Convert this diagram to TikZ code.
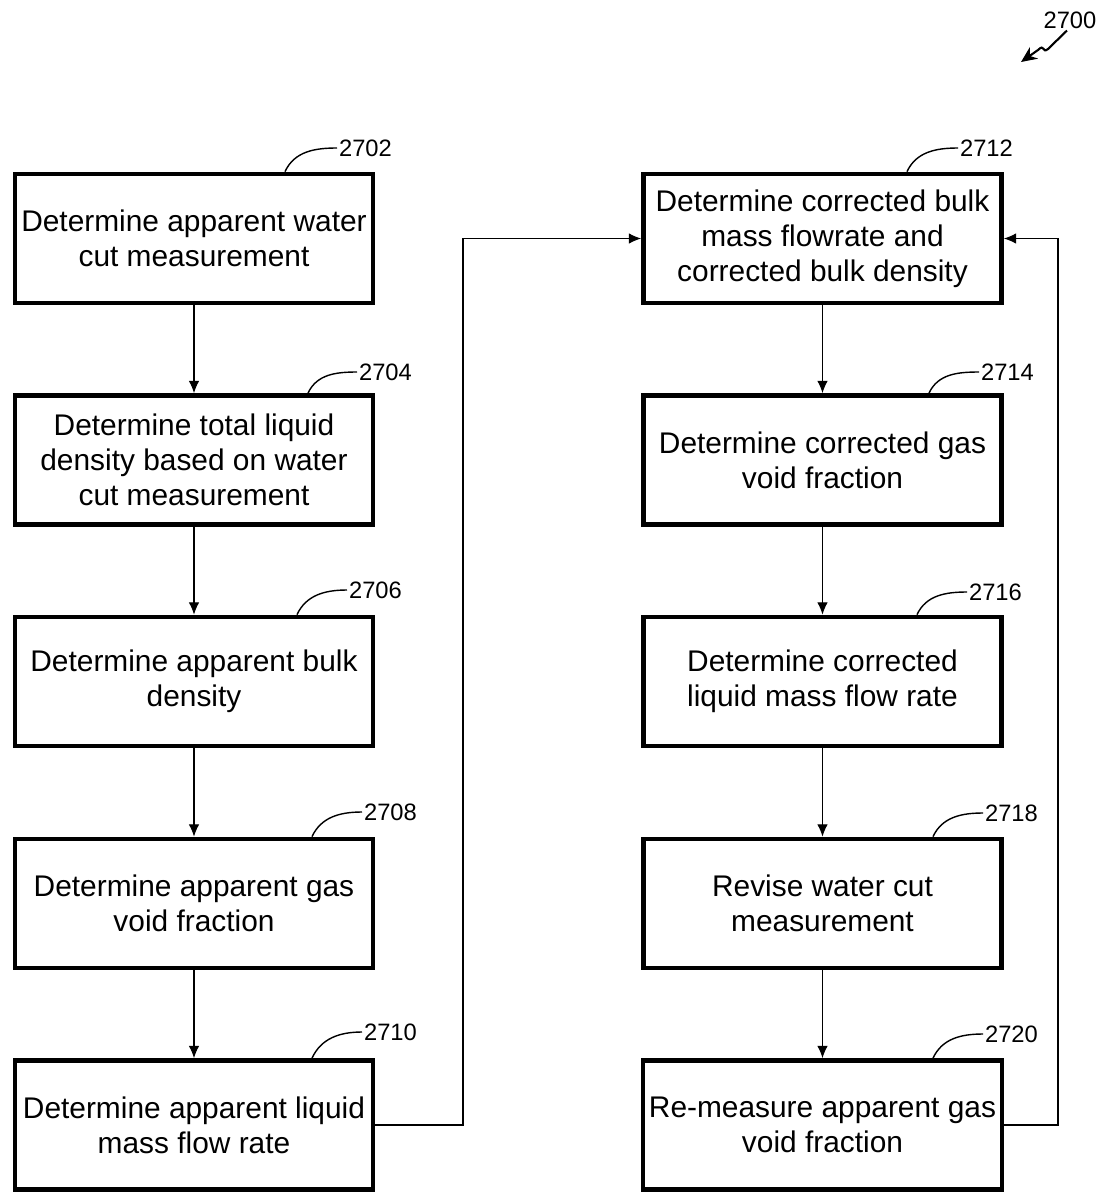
\documentclass[tikz,border=0pt]{standalone}
\usepackage{fontspec}
\setmainfont{Liberation Sans}
\usetikzlibrary{arrows.meta}

\begin{document}
\begin{tikzpicture}[
  stepbox/.style={draw, line width=2.7pt, minimum width=7.16cm, minimum height=2.58cm,
    align=center, font=\fontsize{17pt}{19.9pt}\selectfont},
  reflabel/.style={anchor=west, inner sep=1pt, font=\fontsize{13.5pt}{15pt}\selectfont},
  flow/.style={-{Latex[length=7pt,width=6pt]}, line width=0.6pt},
  leader/.style={line width=0.8pt}]
\useasboundingbox (0,0) rectangle (22.1,-23.86);
% left column
\node[stepbox] (b2702) at (3.88,-4.77) {Determine apparent water\\cut measurement};
\node[stepbox] (b2704) at (3.88,-9.2) {Determine total liquid\\density based on water\\cut measurement};
\node[stepbox] (b2706) at (3.88,-13.63) {Determine apparent bulk\\density};
\node[stepbox] (b2708) at (3.88,-18.07) {Determine apparent gas\\void fraction};
\node[stepbox] (b2710) at (3.88,-22.5) {Determine apparent liquid\\mass flow rate};
% right column
\node[stepbox] (b2712) at (16.45,-4.77) {Determine corrected bulk\\mass flowrate and\\corrected bulk density};
\node[stepbox] (b2714) at (16.45,-9.2) {Determine corrected gas\\void fraction};
\node[stepbox] (b2716) at (16.45,-13.63) {Determine corrected\\liquid mass flow rate};
\node[stepbox] (b2718) at (16.45,-18.07) {Revise water cut\\measurement};
\node[stepbox] (b2720) at (16.45,-22.5) {Re-measure apparent gas\\void fraction};
% reference numerals
\node[reflabel] (l2702) at (6.74,-2.96) {2702};
\node[reflabel] (l2704) at (7.14,-7.44) {2704};
\node[reflabel] (l2706) at (6.94,-11.8) {2706};
\node[reflabel] (l2708) at (7.24,-16.24) {2708};
\node[reflabel] (l2710) at (7.24,-20.64) {2710};
\node[reflabel] (l2712) at (19.16,-2.96) {2712};
\node[reflabel] (l2714) at (19.58,-7.44) {2714};
\node[reflabel] (l2716) at (19.34,-11.84) {2716};
\node[reflabel] (l2718) at (19.66,-16.26) {2718};
\node[reflabel] (l2720) at (19.66,-20.68) {2720};
\node[font=\fontsize{13.5pt}{15pt}\selectfont, inner sep=1pt] (l2700) at (21.4,-0.4) {2700};
\draw[leader] ([xshift=1.82cm]b2702.north) to[out=65,in=180] (l2702.west);
\draw[leader] ([xshift=2.28cm]b2704.north) to[out=65,in=180] (l2704.west);
\draw[leader] ([xshift=2.06cm]b2706.north) to[out=65,in=180] (l2706.west);
\draw[leader] ([xshift=2.36cm]b2708.north) to[out=65,in=180] (l2708.west);
\draw[leader] ([xshift=2.36cm]b2710.north) to[out=65,in=180] (l2710.west);
\draw[leader] ([xshift=1.69cm]b2712.north) to[out=65,in=180] (l2712.west);
\draw[leader] ([xshift=2.13cm]b2714.north) to[out=65,in=180] (l2714.west);
\draw[leader] ([xshift=1.89cm]b2716.north) to[out=65,in=180] (l2716.west);
\draw[leader] ([xshift=2.21cm]b2718.north) to[out=65,in=180] (l2718.west);
\draw[leader] ([xshift=2.21cm]b2720.north) to[out=65,in=180] (l2720.west);
\draw[line width=1.2pt, -{Stealth[length=9pt,width=8pt]}] ([xshift=-0.06cm]l2700.south)
  -- (20.96,-0.98) .. controls (20.84,-1.08) and (20.9,-0.86) .. (20.76,-1.0) -- (20.42,-1.24);
% flow
\draw[flow] (b2702) -- (b2704);
\draw[flow] (b2704) -- (b2706);
\draw[flow] (b2706) -- (b2708);
\draw[flow] (b2708) -- (b2710);
\draw[flow] (b2712) -- (b2714);
\draw[flow] (b2714) -- (b2716);
\draw[flow] (b2716) -- (b2718);
\draw[flow] (b2718) -- (b2720);
\coordinate (jl) at (9.26,-22.5);
\coordinate (jr) at (21.16,-22.5);
\draw[flow] (b2710.east) -- (jl) |- (b2712.west);
\draw[flow] (b2720.east) -- (jr) |- (b2712.east);
\end{tikzpicture}
\end{document}
